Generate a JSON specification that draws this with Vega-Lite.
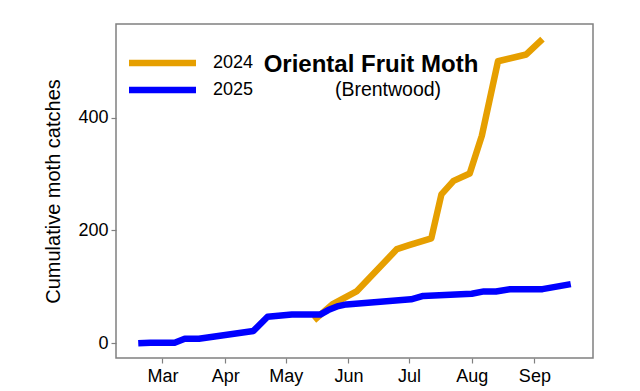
{
  "$schema": "https://vega.github.io/schema/vega-lite/v6.json",
  "width": 477,
  "height": 334,
  "autosize": {"type": "none"},
  "padding": {"left": 116, "top": 24, "right": 47, "bottom": 33},
  "background": "white",
  "config": {
    "font": "Liberation Sans",
    "view": {"stroke": "#808080", "strokeWidth": 1.5},
    "axis": {
      "domain": false,
      "grid": false,
      "tickColor": "#808080",
      "tickSize": 5,
      "tickWidth": 1.2,
      "labelColor": "black",
      "labelFontSize": 18,
      "labelFont": "Liberation Sans",
      "titleFont": "Liberation Sans",
      "titleColor": "black",
      "titleFontWeight": "normal"
    }
  },
  "title": {
    "text": "Oriental Fruit Moth",
    "subtitle": "(Brentwood)",
    "font": "Liberation Sans",
    "fontSize": 24,
    "fontWeight": "bold",
    "color": "black",
    "subtitleFont": "Liberation Sans",
    "subtitleFontSize": 19.5,
    "subtitleColor": "black",
    "subtitlePadding": 2,
    "anchor": "middle",
    "frame": "group",
    "dx": 33.5,
    "offset": -77,
    "encoding": {"dx": {"value": 16.5}, "dy": {"value": -2}}
  },
  "data": {
    "values": [
      {"year": "2024", "date": "2025-05-15", "catches": 41},
      {"year": "2024", "date": "2025-05-24", "catches": 69},
      {"year": "2024", "date": "2025-06-05", "catches": 92},
      {"year": "2024", "date": "2025-06-25", "catches": 167},
      {"year": "2024", "date": "2025-07-01", "catches": 174},
      {"year": "2024", "date": "2025-07-12", "catches": 186},
      {"year": "2024", "date": "2025-07-17", "catches": 264},
      {"year": "2024", "date": "2025-07-23", "catches": 288},
      {"year": "2024", "date": "2025-07-31", "catches": 301},
      {"year": "2024", "date": "2025-08-06", "catches": 368},
      {"year": "2024", "date": "2025-08-14", "catches": 500},
      {"year": "2024", "date": "2025-08-28", "catches": 512},
      {"year": "2024", "date": "2025-09-05", "catches": 539},
      {"year": "2025", "date": "2025-02-17", "catches": 0},
      {"year": "2025", "date": "2025-02-23", "catches": 1},
      {"year": "2025", "date": "2025-03-07", "catches": 1},
      {"year": "2025", "date": "2025-03-12", "catches": 8},
      {"year": "2025", "date": "2025-03-19", "catches": 8},
      {"year": "2025", "date": "2025-04-15", "catches": 22},
      {"year": "2025", "date": "2025-04-22", "catches": 47},
      {"year": "2025", "date": "2025-05-04", "catches": 51},
      {"year": "2025", "date": "2025-05-18", "catches": 51},
      {"year": "2025", "date": "2025-05-22", "catches": 59},
      {"year": "2025", "date": "2025-05-27", "catches": 66},
      {"year": "2025", "date": "2025-05-31", "catches": 69},
      {"year": "2025", "date": "2025-07-02", "catches": 78},
      {"year": "2025", "date": "2025-07-08", "catches": 84},
      {"year": "2025", "date": "2025-08-01", "catches": 88},
      {"year": "2025", "date": "2025-08-07", "catches": 92},
      {"year": "2025", "date": "2025-08-13", "catches": 92},
      {"year": "2025", "date": "2025-08-20", "catches": 96},
      {"year": "2025", "date": "2025-09-05", "catches": 96},
      {"year": "2025", "date": "2025-09-19", "catches": 105}
    ]
  },
  "mark": {"type": "line", "strokeWidth": 6.5, "strokeCap": "butt", "strokeJoin": "round", "clip": true},
  "encoding": {
    "x": {
      "field": "date",
      "type": "temporal",
      "scale": {
        "type": "utc",
        "domain": [
          {"year": 2025, "month": 2, "date": 6, "utc": true},
          {"year": 2025, "month": 9, "date": 30, "utc": true}
        ]
      },
      "axis": {
        "title": null,
        "format": "%b",
        "labelPadding": 4,
        "values": [
          {"year": 2025, "month": 3, "date": 1, "utc": true},
          {"year": 2025, "month": 4, "date": 1, "utc": true},
          {"year": 2025, "month": 5, "date": 1, "utc": true},
          {"year": 2025, "month": 6, "date": 1, "utc": true},
          {"year": 2025, "month": 7, "date": 1, "utc": true},
          {"year": 2025, "month": 8, "date": 1, "utc": true},
          {"year": 2025, "month": 9, "date": 1, "utc": true}
        ]
      }
    },
    "y": {
      "field": "catches",
      "type": "quantitative",
      "scale": {"domain": [-26, 566], "nice": false, "zero": false},
      "axis": {
        "title": "Cumulative moth catches",
        "titleFontSize": 20,
        "titlePadding": 14,
        "values": [0, 200, 400],
        "labelPadding": 3
      }
    },
    "color": {
      "field": "year",
      "type": "nominal",
      "scale": {"domain": ["2024", "2025"], "range": ["#E69F00", "#0000FF"]},
      "legend": {
        "title": null,
        "orient": "none",
        "legendX": 37.5,
        "legendY": 30,
        "padding": 0,
        "symbolType": "M-6.7,0H6.7",
        "symbolSize": 100,
        "symbolStrokeWidth": 6.5,
        "rowPadding": 1,
        "labelOffset": 41.5,
        "labelFontSize": 18,
        "labelColor": "black",
        "labelFont": "Liberation Sans"
      }
    }
  }
}
